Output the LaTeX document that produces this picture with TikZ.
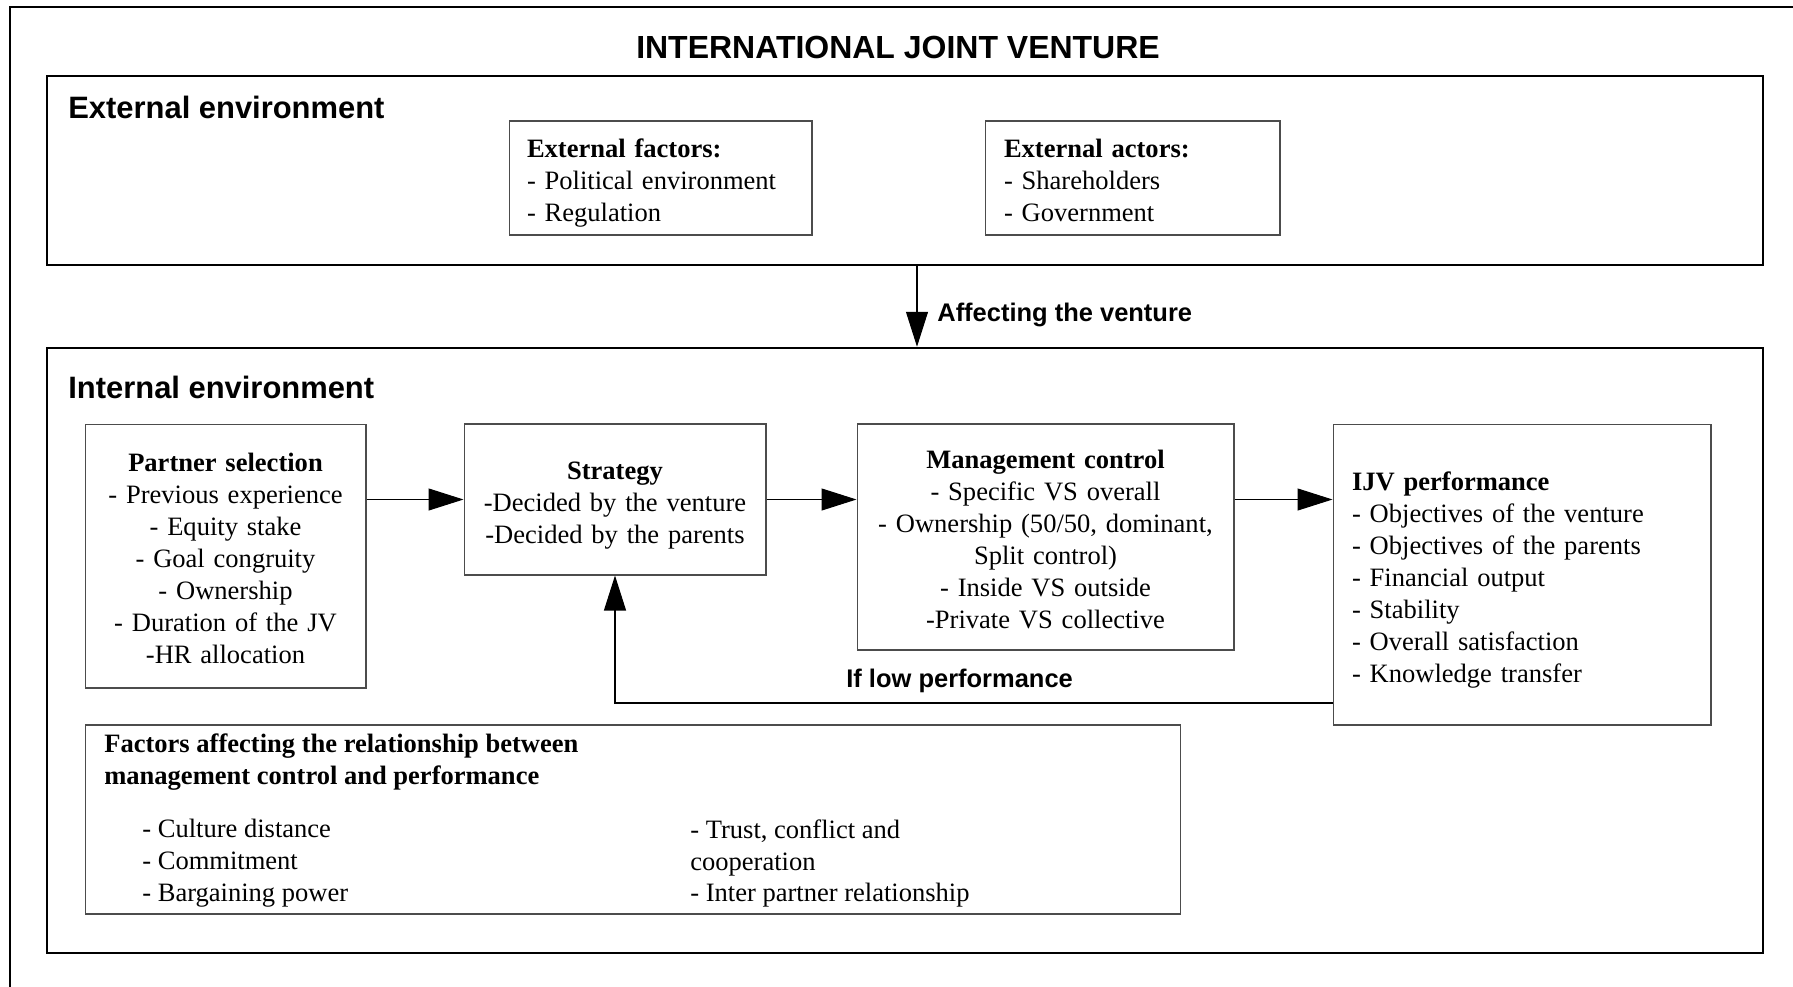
\documentclass[tikz,border=0pt]{standalone}
\usepackage{fontspec}
\setmainfont{Liberation Serif}
\setsansfont{Liberation Sans}
\usepackage{tikz}
\usetikzlibrary{arrows.meta}

\begin{document}
\begin{tikzpicture}[x=0.02cm, y=-0.02cm,
  txt/.style = {font=\fontsize{15.1pt}{18.2pt}\selectfont},
  envbox/.style = {draw, line width=1.5pt, minimum width=34.32cm, inner sep=0pt},
  factorbox/.style = {txt, draw=black!70, line width=0.6pt, inner sep=0pt,
    execute at begin node={\rule{0pt}{16.66pt}},
    execute at end node={\rule[-3.41pt]{0pt}{3.41pt}}},
  maintitle/.style = {font=\sffamily\bfseries\fontsize{18.2pt}{22pt}\selectfont, inner sep=0pt},
  envtag/.style = {font=\sffamily\bfseries\fontsize{17.6pt}{21pt}\selectfont, inner sep=0pt},
  arrowtag/.style = {font=\sffamily\bfseries\fontsize{14.5pt}{17pt}\selectfont, inner sep=0pt},
  flow/.style = {-{Triangle[length=0.7cm,width=0.44cm]}, line width=0.6pt}]

\useasboundingbox (0,0) rectangle (1793,987);
\draw[line width=1.5pt] (10,7) rectangle (1860,1060);

\node[maintitle, anchor=base] (title) at (898,58) {INTERNATIONAL JOINT VENTURE};

\node[envbox, minimum height=3.78cm] (extenv) at (905,170.5) {};
\node[envbox, minimum height=12.1cm] (intenv) at (905,650.5) {};
\node[envtag, anchor=base west] (extlabel) at (68,118) {External environment};
\node[envtag, anchor=base west] (intlabel) at (68,398) {Internal environment};

\node[factorbox, align=left, minimum width=6.06cm, minimum height=2.28cm, text width=5.34cm, inner xsep=0.36cm] (extfactors) at (660.5,178) {\textbf{External factors:}\\- Political environment\\- Regulation};
\node[factorbox, align=left, minimum width=5.9cm, minimum height=2.28cm, text width=5.14cm, inner xsep=0.38cm] (extactors) at (1132.5,178) {\textbf{External actors:}\\- Shareholders\\- Government};

\node[factorbox, align=center, minimum width=5.62cm, minimum height=5.28cm, text width=5.62cm] (partner) at (225.5,556) {\textbf{Partner selection}\\- Previous experience\\- Equity stake\\- Goal congruity\\- Ownership\\- Duration of the JV\\-HR allocation};
\node[factorbox, align=center, minimum width=6.04cm, minimum height=3.02cm, text width=6.04cm] (strategy) at (615,499.5) {\textbf{Strategy}\\-Decided by the venture\\-Decided by the parents};
\node[factorbox, align=center, minimum width=7.54cm, minimum height=4.52cm, text width=7.54cm] (mgmt) at (1045.5,537) {\textbf{Management control}\\- Specific VS overall\\- Ownership (50/50, dominant,\\Split control)\\- Inside VS outside\\-Private VS collective};
\node[factorbox, align=left, minimum width=7.56cm, minimum height=6.02cm, text width=6.8cm, inner xsep=0.38cm] (ijv) at (1522,574.5) {\textbf{IJV performance}\\- Objectives of the venture\\- Objectives of the parents\\- Financial output\\- Stability\\- Overall satisfaction\\- Knowledge transfer};

\node[factorbox, minimum width=21.92cm, minimum height=3.78cm] (relation) at (633,819.5) {};
\node[txt, anchor=north west, align=left, inner sep=0pt] (relhead) at (104,733) {\textbf{Factors affecting the relationship between}\\\textbf{management control and performance}};
\node[txt, anchor=north west, align=left, inner sep=0pt] (relleft) at (142,819) {- Culture distance\\- Commitment\\- Bargaining power};
\node[txt, anchor=north west, align=left, inner sep=0pt] (relright) at (690,819) {- Trust, conflict and\\cooperation\\- Inter partner relationship};

\coordinate (drop) at (917,0);
\draw[flow] (extenv.south -| drop) -- (intenv.north -| drop);
\node[arrowtag, anchor=base west] (affect) at (937,321) {Affecting the venture};

\draw[flow] (partner.east |- strategy.west) -- (strategy.west);
\draw[flow] (strategy.east) -- (strategy.east -| mgmt.west);
\draw[flow] (mgmt.east |- strategy.east) -- (ijv.west |- strategy.east);

\coordinate (back) at (0,703);
\draw[flow] (ijv.west |- back) -| (strategy.south);
\node[arrowtag, anchor=base west] (lowperf) at (846,687) {If low performance};
\end{tikzpicture}
\end{document}
